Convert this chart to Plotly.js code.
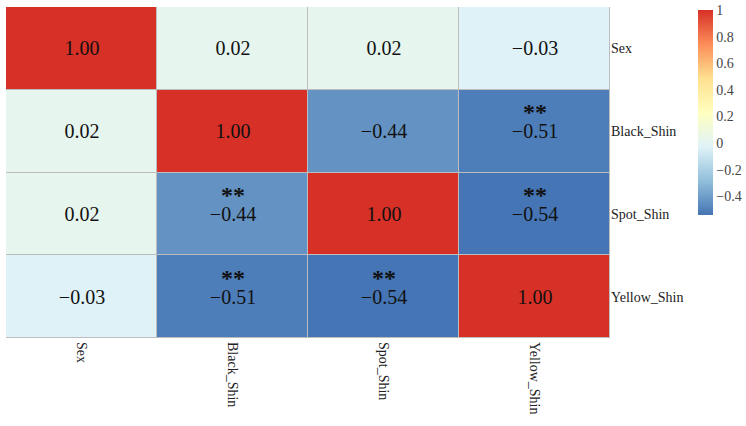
<!DOCTYPE html>
<html>
<head>
<meta charset="utf-8">
<script src="https://cdn.plot.ly/plotly-3.0.1.min.js"></script>
<style>html,body{margin:0;padding:0;background:#fff;}#chart{width:746px;height:426px;}</style>
</head>
<body>
<div id="chart"></div>
<script>
const labels = ['Sex', 'Black_Shin', 'Spot_Shin', 'Yellow_Shin'];
const corr = [
  [1.00, 0.02, 0.02, -0.03],
  [0.02, 1.00, -0.44, -0.51],
  [0.02, -0.44, 1.00, -0.54],
  [-0.03, -0.51, -0.54, 1.00]
];
const stars = [
  ['', '', '', ''],
  ['', '', '', '**'],
  ['', '**', '', '**'],
  ['', '**', '**', '']
];
const cbTickVals = [-0.4, -0.2, 0, 0.2, 0.4, 0.6, 0.8, 1];
const cbTickText = ['\u22120.4', '\u22120.2', '0', '0.2', '0.4', '0.6', '0.8', '1'];

const serif = 'Liberation Serif, Times New Roman, serif';
const cellText = corr.map(r => r.map(v => v.toFixed(2).replace('-', '\u2212')));

const annotations = [];
stars.forEach((row, i) => row.forEach((s, j) => {
  if (s) annotations.push({
    x: labels[j], y: labels[i], text: '<b>' + s + '</b>', showarrow: false, yshift: 19,
    font: {family: serif, size: 24, color: '#111'}
  });
}));

const trace = {
  type: 'heatmap',
  x: labels, y: labels, z: corr,
  text: cellText, texttemplate: '%{text}',
  textfont: {family: serif, size: 20, color: '#111'},
  zmin: -0.54, zmax: 1,
  xgap: 1, ygap: 1,
  hoverinfo: 'skip',
  colorscale: [
    [0, '#4575B4'], [1/6, '#91BFDB'], [2/6, '#E0F3F8'], [3/6, '#FFFFBF'],
    [4/6, '#FEE090'], [5/6, '#FC8D59'], [1, '#D73027']
  ],
  colorbar: {
    x: 1.146, xanchor: 'left', xpad: 0, ypad: 0,
    y: 0.991, yanchor: 'top', len: 205, lenmode: 'pixels',
    thickness: 15, outlinewidth: 0,
    tickvals: cbTickVals, ticktext: cbTickText, ticks: '',
    tickfont: {family: serif, size: 14, color: '#444'}
  }
};

const layout = {
  width: 746, height: 426,
  margin: {l: 6, r: 136, t: 7, b: 88},
  paper_bgcolor: '#fff', plot_bgcolor: '#BDBDBD',
  xaxis: {type: 'category', tickangle: 90, ticks: '', showgrid: false, zeroline: false,
    ticklabelstandoff: 3,
    tickfont: {family: serif, size: 14, color: '#222'}},
  yaxis: {type: 'category', autorange: 'reversed', side: 'right', ticks: '', showgrid: false, zeroline: false,
    tickfont: {family: serif, size: 14, color: '#222'}},
  annotations: annotations,
  showlegend: false
};

Plotly.newPlot('chart', [trace], layout, {displayModeBar: false, staticPlot: true});
</script>
</body>
</html>
